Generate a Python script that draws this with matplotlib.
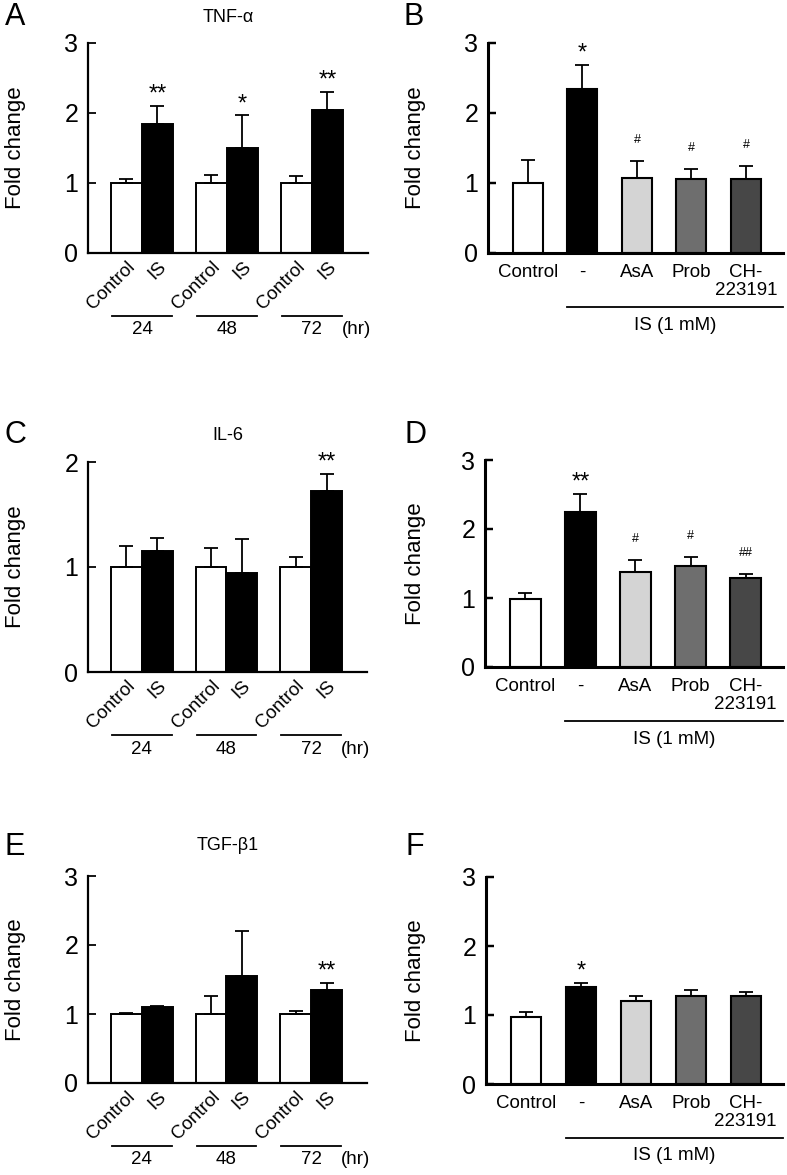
import numpy as np
import matplotlib
matplotlib.use("Agg")
import matplotlib.pyplot as plt
import matplotlib.transforms as mtransforms

plt.rcParams['font.family'] = ['Liberation Sans', 'DejaVu Sans']

# ---------------- data ----------------
time_groups = ['24', '48', '72']
time_bar_labels = ['Control', 'IS']
treat_labels = ['Control', '-', 'AsA', 'Prob', 'CH-\n223191']
treat_colors = ['white', 'black', '#d4d4d4', '#6e6e6e', '#474747']

tnf_ctrl = [1.0, 1.0, 1.0]
tnf_ctrl_err = [0.06, 0.12, 0.10]
tnf_is = [1.84, 1.50, 2.04]
tnf_is_err = [0.26, 0.47, 0.26]
tnf_is_sig = ['**', '*', '**']

tnf_treat = [1.0, 2.34, 1.07, 1.06, 1.06]
tnf_treat_err = [0.33, 0.35, 0.24, 0.14, 0.18]
tnf_treat_sig = ['', '*', '#', '#', '#']

il6_ctrl = [1.0, 1.0, 1.0]
il6_ctrl_err = [0.20, 0.18, 0.10]
il6_is = [1.15, 0.94, 1.72]
il6_is_err = [0.13, 0.33, 0.17]
il6_is_sig = ['', '', '**']

il6_treat = [0.98, 2.25, 1.38, 1.46, 1.29]
il6_treat_err = [0.09, 0.26, 0.17, 0.13, 0.06]
il6_treat_sig = ['', '**', '#', '#', '##']

tgf_ctrl = [1.0, 1.0, 1.0]
tgf_ctrl_err = [0.02, 0.26, 0.05]
tgf_is = [1.10, 1.55, 1.35]
tgf_is_err = [0.02, 0.65, 0.10]
tgf_is_sig = ['', '', '**']

tgf_treat = [0.97, 1.40, 1.21, 1.27, 1.27]
tgf_treat_err = [0.07, 0.07, 0.07, 0.09, 0.07]
tgf_treat_sig = ['', '*', '', '', '']

# ---------------- layout ----------------
W, H = 787, 1175
fig = plt.figure(figsize=(W / 100, H / 100), dpi=100)


def add_ax(l, r, t, b):
    return fig.add_axes([l / W, 1 - b / H, (r - l) / W, (b - t) / H])


def sig_text(ax, x, top, s):
    if not s:
        return
    if '#' in s:
        ax.annotate(s, xy=(x, top), xytext=(0, 11), textcoords='offset points',
                    ha='center', va='bottom', fontsize=9)
    else:
        ax.annotate(s, xy=(x, top), xytext=(0, 0), textcoords='offset points',
                    ha='center', va='bottom', fontsize=17)


def style_axis(ax, ymax, spw, ylab_x):
    for s in ['top', 'right']:
        ax.spines[s].set_visible(False)
    ax.spines['left'].set_linewidth(spw)
    ax.spines['bottom'].set_linewidth(spw)
    ax.set_ylim(0, ymax)
    ax.set_yticks(range(0, ymax + 1))
    ax.tick_params(axis='y', direction='in', length=6, width=spw * 0.8,
                   labelsize=18, pad=7)
    ax.tick_params(axis='x', length=0)
    ax.set_ylabel('Fold change', fontsize=16, ha='center', va='center')
    ax.yaxis.set_label_coords(ylab_x, 0.5)


def time_panel(box, ctrl, ctrl_err, isv, is_err, sig, ymax, title, title_gap):
    l, r, t, b = box
    ax = add_ax(l, r, t, b)
    hpx, wpx = b - t, r - l
    x = np.arange(len(time_groups))
    w = 0.365
    ax.bar(x - w / 2, ctrl, w, color='white', edgecolor='black', linewidth=1.4, zorder=2)
    ax.bar(x + w / 2, isv, w, color='black', edgecolor='black', linewidth=1.4, zorder=2)
    ax.errorbar(x - w / 2, ctrl, yerr=[np.zeros(len(ctrl)), ctrl_err], fmt='none',
                ecolor='black', elinewidth=1.3, capsize=5, capthick=1.3, zorder=3)
    ax.errorbar(x + w / 2, isv, yerr=[np.zeros(len(isv)), is_err], fmt='none',
                ecolor='black', elinewidth=1.3, capsize=5, capthick=1.3, zorder=3)
    for xi, v, e, s in zip(x + w / 2, isv, is_err, sig):
        sig_text(ax, xi, v + e, s)
    ax.set_xlim(-0.635, 2.66)
    style_axis(ax, ymax, 1.6, (16 - l) / wpx)
    ticks = np.ravel(np.column_stack([x - w / 2, x + w / 2]))
    ax.set_xticks(ticks)
    ax.set_xticklabels(time_bar_labels * len(time_groups), rotation=45, ha='right',
                       va='top', rotation_mode='anchor', fontsize=13.5)
    ax.tick_params(axis='x', pad=4)
    trans = mtransforms.blended_transform_factory(ax.transData, ax.transAxes)
    yl = -63 / hpx
    yt = -77 / hpx
    for g, lab in zip(x, time_groups):
        ax.plot([g - 0.353, g + 0.353], [yl, yl], color='black', lw=1.3,
                transform=trans, clip_on=False)
        ax.text(g, yt, lab, ha='center', va='center', fontsize=13.5, transform=trans)
    ax.text(2.53, yt, '(hr)', ha='center', va='center', fontsize=13.5, transform=trans)
    ax.text(0.5, 1 + title_gap / hpx, title, ha='center', va='center', fontsize=13,
            transform=ax.transAxes)
    return ax


def treat_panel(box, vals, errs, sig, ymax):
    l, r, t, b = box
    ax = add_ax(l, r, t, b)
    hpx, wpx = b - t, r - l
    x = np.arange(len(treat_labels))
    w = 0.55
    ax.bar(x, vals, w, color=treat_colors, edgecolor='black', linewidth=1.5, zorder=2)
    ax.errorbar(x, vals, yerr=[np.zeros(len(vals)), errs], fmt='none',
                ecolor='black', elinewidth=1.3, capsize=5, capthick=1.3, zorder=3)
    for xi, v, e, s in zip(x, vals, errs, sig):
        sig_text(ax, xi, v + e, s)
    ax.set_xlim(-0.734, 4.68)
    style_axis(ax, ymax, 2.2, (416 - l) / wpx)
    ax.set_xticks(x)
    ax.set_xticklabels(treat_labels, fontsize=13.5, linespacing=1.05)
    ax.tick_params(axis='x', pad=8)
    trans = mtransforms.blended_transform_factory(ax.transData, ax.transAxes)
    yl = -54 / hpx
    yt = -72 / hpx
    ax.plot([0.716, 4.68], [yl, yl], color='black', lw=1.3, transform=trans, clip_on=False)
    ax.text(2.7, yt, 'IS (1 mM)', ha='center', va='center', fontsize=13.5, transform=trans)
    return ax


time_panel((88, 368, 43, 253), tnf_ctrl, tnf_ctrl_err, tnf_is, tnf_is_err, tnf_is_sig, 3, 'TNF-α', 26)
treat_panel((488, 783, 43, 253), tnf_treat, tnf_treat_err, tnf_treat_sig, 3)
time_panel((88, 367, 462, 672), il6_ctrl, il6_ctrl_err, il6_is, il6_is_err, il6_is_sig, 2, 'IL-6', 27)
treat_panel((485, 783, 460, 667), il6_treat, il6_treat_err, il6_treat_sig, 3)
time_panel((88, 367, 876, 1083), tgf_ctrl, tgf_ctrl_err, tgf_is, tgf_is_err, tgf_is_sig, 3, 'TGF-β1', 31)
treat_panel((486, 783, 877, 1084), tgf_treat, tgf_treat_err, tgf_treat_sig, 3)

for letter, px, py in [('A', 15, 17), ('B', 414, 17), ('C', 15, 435), ('D', 415, 435),
                       ('E', 15, 847), ('F', 415, 847)]:
    fig.text(px / W, 1 - py / H, letter, fontsize=22, ha='center', va='center')

fig.savefig('out.png', dpi=100)
